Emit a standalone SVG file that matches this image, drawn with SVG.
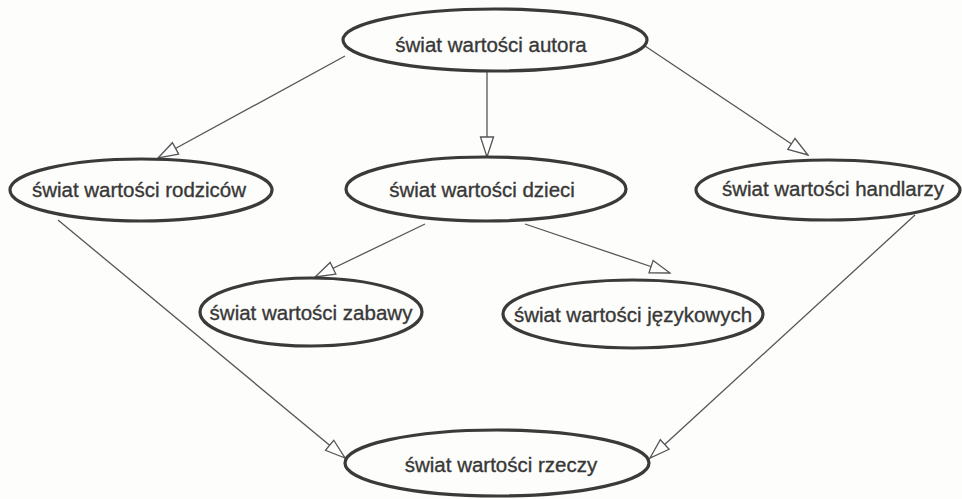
<svg xmlns="http://www.w3.org/2000/svg" width="962" height="499" viewBox="0 0 962 499">
<style>
.node ellipse{fill:#fdfdfb;stroke:#3a3a3a;stroke-width:3.2}
.node text{font-family:"Liberation Sans",Arial,sans-serif;font-size:20.5px;fill:#383838;stroke:#383838;stroke-width:0.35;text-anchor:middle}
.edge{stroke:#555;stroke-width:1.3;fill:none;marker-end:url(#arr)}
</style>
<defs>
<marker id="arr" viewBox="0 0 22 16" refX="21" refY="8" markerWidth="22" markerHeight="16" markerUnits="userSpaceOnUse" orient="auto">
<path d="M1,1.5 L21,8 L1,14.5 z" fill="#fff" stroke="#555" stroke-width="1.3"/>
</marker>
</defs>
<rect width="962" height="499" fill="#fdfdfb"/>
<g id="connectors">
<line class="edge" x1="345" y1="56" x2="158" y2="158"/>
<line class="edge" x1="487" y1="72" x2="487" y2="157"/>
<line class="edge" x1="645" y1="46" x2="808" y2="155"/>
<line class="edge" x1="425" y1="224" x2="315" y2="277"/>
<line class="edge" x1="525" y1="224" x2="670" y2="273"/>
<line class="edge" x1="58" y1="220" x2="345" y2="458"/>
<line class="edge" x1="915" y1="215" x2="650" y2="458"/>
</g>
<g id="autora" class="node"><ellipse cx="495" cy="40" rx="152" ry="31"/><text x="491" y="52">świat wartości autora</text></g>
<g id="rodzicow" class="node"><ellipse cx="141" cy="190" rx="131" ry="31"/><text x="139" y="197">świat wartości rodziców</text></g>
<g id="dzieci" class="node"><ellipse cx="486" cy="189" rx="140" ry="32"/><text x="482" y="197">świat wartości dzieci</text></g>
<g id="handlarzy" class="node"><ellipse cx="828" cy="190" rx="132" ry="30"/><text x="833" y="196">świat wartości handlarzy</text></g>
<g id="zabawy" class="node"><ellipse cx="311" cy="312" rx="111" ry="34"/><text x="311" y="320">świat wartości zabawy</text></g>
<g id="jezykowych" class="node"><ellipse cx="633" cy="314" rx="130" ry="34"/><text x="633" y="322">świat wartości językowych</text></g>
<g id="rzeczy" class="node"><ellipse cx="497" cy="463" rx="152" ry="33"/><text x="501" y="472">świat wartości rzeczy</text></g>
</svg>
